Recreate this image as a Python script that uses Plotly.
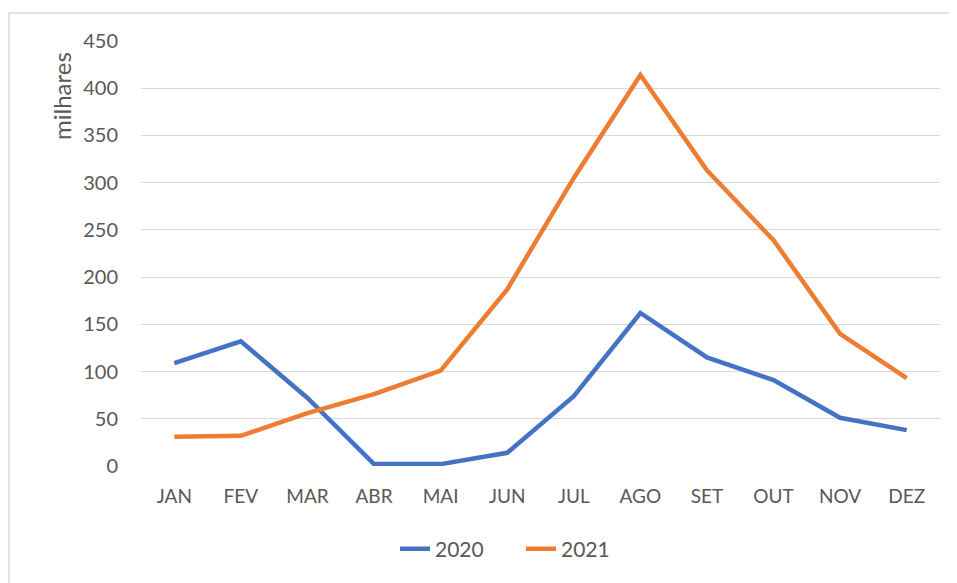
import plotly.graph_objects as go

months = ["JAN", "FEV", "MAR", "ABR", "MAI", "JUN", "JUL", "AGO", "SET", "OUT", "NOV", "DEZ"]
s2020 = [109, 132, 72, 2, 2, 14, 74, 162, 115, 91, 51, 38]
s2021 = [31, 32, 56, 76, 101, 187, 305, 414, 313, 239, 140, 93]
yticks = [0, 50, 100, 150, 200, 250, 300, 350, 400, 450]

OFF = 8  # page body margin
W, H = 957 - OFF, 583 - OFF
L, R, T, B = 141 - OFF, 17, 41 - OFF, 117
pw, ph = W - L - R, H - T - B

font = "Lato, 'Open Sans', sans-serif"
gray = "#595959"

fig = go.Figure()
fig.add_trace(go.Scatter(x=months, y=s2020, mode="lines", name="2020",
                         line=dict(color="#4472C4", width=4.5)))
fig.add_trace(go.Scatter(x=months, y=s2021, mode="lines", name="2021",
                         line=dict(color="#ED7D31", width=4.5)))

def px_x(p):
    return (p - OFF - L) / pw

def px_y(p):
    return (H - B - (p - OFF)) / ph

fig.update_layout(
    width=W, height=H,
    margin=dict(l=L, r=R, t=T, b=B, autoexpand=False),
    paper_bgcolor="white", plot_bgcolor="white",
    font=dict(family=font, size=19, color=gray),
    showlegend=True,
    legend=dict(orientation="h", x=px_x(395), y=px_y(549), xanchor="left", yanchor="middle",
                entrywidth=81, entrywidthmode="pixels",
                font=dict(size=21, color=gray), bgcolor="rgba(0,0,0,0)"),
    xaxis=dict(showgrid=False, showline=False, zeroline=False, ticks="",
               ticklabelstandoff=17, tickfont=dict(size=19, color=gray),
               range=[-0.5, 11.5]),
    yaxis=dict(range=[0, 450], tickvals=yticks, showgrid=True, gridcolor="#D9D9D9",
               gridwidth=1.2, zeroline=False, showline=False, ticks="",
               ticklabelstandoff=22, tickfont=dict(size=20, color=gray)),
    annotations=[dict(text="milhares", xref="paper", yref="paper",
                      x=px_x(61), y=px_y(96), showarrow=False, textangle=-90,
                      font=dict(size=24, color=gray), xanchor="center", yanchor="middle")],
    shapes=[dict(type="rect", xref="paper", yref="paper",
                 x0=px_x(9), x1=px_x(1000), y0=px_y(620), y1=px_y(13),
                 line=dict(color="#D9D9D9", width=1.5), fillcolor="rgba(0,0,0,0)", layer="below")],
)

fig.write_html("out.html")
